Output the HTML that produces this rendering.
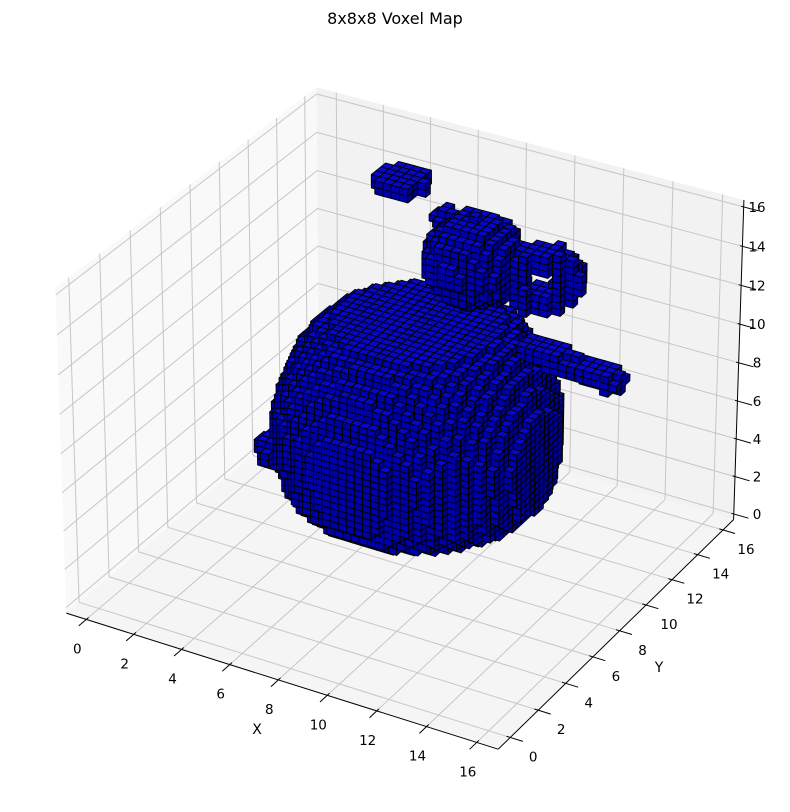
<!DOCTYPE html>
<html><head><meta charset="utf-8"><title>8x8x8 Voxel Map</title>
<style>
html,body{margin:0;padding:0;background:#fff;}
svg{display:block;font-family:"DejaVu Sans","Liberation Sans",sans-serif;}
</style></head>
<body>
<svg id="chart" width="790" height="812" viewBox="0 0 790 812" xmlns="http://www.w3.org/2000/svg">
<text x="395" y="24" text-anchor="middle" font-size="16" fill="#000">8x8x8 Voxel Map</text>
<g id="panes"></g>
<g id="grid"></g>
<g id="voxels"></g>
<g id="axes"></g>
<text x="257" y="734" text-anchor="middle" font-size="14">X</text>
<text x="659" y="672" text-anchor="middle" font-size="14">Y</text>
</svg>
<script>
// ---- chart data ----
const xTicks = [0,2,4,6,8,10,12,14,16];
const yTicks = [0,2,4,6,8,10,12,14,16];
const zTicks = [0,2,4,6,8,10,12,14,16];
const xlim = [-0.85,16.85], ylim = [-0.85,16.85], zlim = [-0.3,16.35];
// teapot body (surface of revolution) profile
const bodyCenter = [8.4, 8.3];
const profileZ = [3.4, 3.7, 4.1, 4.8, 5.8, 6.8, 7.8, 8.8, 9.8, 10.8, 11.8, 12.4];
const profileR = [3.9, 4.3, 4.6, 4.9, 5.0, 5.1, 5.1, 4.9, 4.6, 4.2, 3.6, 2.8];
// blobs: lid, left bump, knob, lid side piece
const blobX  = [9.8, 4.2, 7.6, 8.2];
const blobY  = [9.8, 5.6, 8.5, 10.6];
const blobZ  = [15.1, 6.0, 19.0, 16.2];
const blobR  = [1.7, 0.8, 1.0, 0.5];
const blobRZ = [2.1, 0.8, 0.45, 0.4];
// spout
const spoutStart = [12.4, 9.5, 11.6];
const spoutEnd   = [15.5, 9.5, 11.2];
const spoutR = [0.5];
// handle ring
const ringCenter = [12.1, 10.5, 14.5];
const ringInner = [0.6], ringOuter = [1.5], ringHalf = [0.5];
const voxelSize = [1/3];

// ---- projection ----
const NS='http://www.w3.org/2000/svg';
const BA=[0.833,0.833,0.625];
const V=[0.433013,-0.75,0.5], RT=[0.866025,0.5,0], UP=[-0.25,0.433013,0.866025];
const EYE=[V[0]*10,V[1]*10,V[2]*10];
function nrm(x,y,z){return [((x-xlim[0])/(xlim[1]-xlim[0])-0.5)*BA[0],((y-ylim[0])/(ylim[1]-ylim[0])-0.5)*BA[1],((z-zlim[0])/(zlim[1]-zlim[0])-0.5)*BA[2]];}
function raw(x,y,z){const p=nrm(x,y,z);const d=[p[0]-EYE[0],p[1]-EYE[1],p[2]-EYE[2]];
 const dep=-(d[0]*V[0]+d[1]*V[1]+d[2]*V[2]);
 return [(d[0]*RT[0]+d[1]*RT[1]+d[2]*RT[2])/dep,(d[0]*UP[0]+d[1]*UP[1]+d[2]*UP[2])/dep];}
const X0=xlim[0],X1=xlim[1],Y0=ylim[0],Y1=ylim[1],Z0=zlim[0],Z1=zlim[1];
const cal=[[X0,Y0,Z0,67,612],[X1,Y0,Z0,501,753],[X1,Y1,Z0,730,517],[X0,Y0,Z1,52,283],[X0,Y1,Z1,319,92],[X1,Y1,Z1,745,200]];
let K,CX,CY;
(function(){const s=cal.map(c=>raw(c[0],c[1],c[2]));const n=s.length;
 let msx=0,msy=0,mX=0,mY=0;s.forEach((q,i)=>{msx+=q[0];msy+=q[1];mX+=cal[i][3];mY+=cal[i][4];});
 msx/=n;msy/=n;mX/=n;mY/=n;let num=0,den=0;
 s.forEach((q,i)=>{num+=(q[0]-msx)*(cal[i][3]-mX)-(q[1]-msy)*(cal[i][4]-mY);den+=(q[0]-msx)**2+(q[1]-msy)**2;});
 K=num/den;CX=mX-K*msx;CY=mY+K*msy;})();
function P(x,y,z){const r=raw(x,y,z);return [CX+K*r[0],CY-K*r[1]];}
function pts(a){return a.map(p=>p[0].toFixed(1)+','+p[1].toFixed(1)).join(' ');}

// ---- panes ----
const panes=document.getElementById('panes');
function poly(g,arr,fill,name){const e=document.createElementNS(NS,'polygon');e.setAttribute('points',pts(arr));e.setAttribute('fill',fill);
 
 
 g.appendChild(e);}
poly(panes,[P(X0,Y0,Z0),P(X0,Y1,Z0),P(X0,Y1,Z1),P(X0,Y0,Z1)],'#f9f9f9','x-pane');
poly(panes,[P(X0,Y1,Z0),P(X1,Y1,Z0),P(X1,Y1,Z1),P(X0,Y1,Z1)],'#f2f2f2','y-pane');
poly(panes,[P(X0,Y0,Z0),P(X1,Y0,Z0),P(X1,Y1,Z0),P(X0,Y1,Z0)],'#f5f5f5','floor-pane');

function line(g,a,b,stroke,w,name){const e=document.createElementNS(NS,'line');
 e.setAttribute('x1',a[0].toFixed(1));e.setAttribute('y1',a[1].toFixed(1));e.setAttribute('x2',b[0].toFixed(1));e.setAttribute('y2',b[1].toFixed(1));
 e.setAttribute('stroke',stroke);e.setAttribute('stroke-width',w);
 
 
 g.appendChild(e);}
const grid=document.getElementById('grid');
xTicks.forEach(x=>{line(grid,P(x,Y0,Z0),P(x,Y1,Z0),'#c6c6c6',1,'floor-grid-x');line(grid,P(x,Y1,Z0),P(x,Y1,Z1),'#c6c6c6',1,'wall-grid-x');});
yTicks.forEach(y=>{line(grid,P(X0,y,Z0),P(X1,y,Z0),'#c6c6c6',1,'floor-grid-y');line(grid,P(X0,y,Z0),P(X0,y,Z1),'#c6c6c6',1,'wall-grid-y');});
zTicks.forEach(z=>{line(grid,P(X0,Y0,z),P(X0,Y1,z),'#c6c6c6',1,'wall-grid-z');line(grid,P(X0,Y1,z),P(X1,Y1,z),'#c6c6c6',1,'back-grid-z');});

// ---- voxels ----
function profR(z){if(z<profileZ[0]||z>profileZ[profileZ.length-1])return -1;
 for(let i=0;i<profileZ.length-1;i++){if(z<=profileZ[i+1]){const t=(z-profileZ[i])/(profileZ[i+1]-profileZ[i]);return profileR[i]+t*(profileR[i+1]-profileR[i]);}}return -1;}
function occ(x,y,z){
 const r=profR(z);if(r>0){const dx=x-bodyCenter[0],dy=y-bodyCenter[1];if(dx*dx+dy*dy<=r*r)return true;}
 for(let i=0;i<blobX.length;i++){const a=(x-blobX[i])/blobR[i],b=(y-blobY[i])/blobR[i],c=(z-blobZ[i])/blobRZ[i];if(a*a+b*b+c*c<=1)return true;}
 const s=spoutStart,e=spoutEnd;const d=[e[0]-s[0],e[1]-s[1],e[2]-s[2]];const L=d[0]*d[0]+d[1]*d[1]+d[2]*d[2];
 let t=((x-s[0])*d[0]+(y-s[1])*d[1]+(z-s[2])*d[2])/L;t=Math.max(0,Math.min(1,t));
 const q=[x-s[0]-t*d[0],y-s[1]-t*d[1],z-s[2]-t*d[2]];if(q[0]*q[0]+q[1]*q[1]+q[2]*q[2]<=spoutR[0]*spoutR[0])return true;
 const qx=x-ringCenter[0],qy=y-ringCenter[1],qz=z-ringCenter[2];const a=qx*0.866+qy*0.5,tt=-qx*0.5+qy*0.866;const rr=Math.sqrt(a*a+qz*qz);
 if(rr>=ringInner[0]&&rr<=ringOuter[0]&&Math.abs(tt)<=ringHalf[0])return true;
 return false;}
const vs=voxelSize[0];const NI=57,NJ=57,NK=66;
const G=new Uint8Array(NI*NJ*NK);const idx=(i,j,k)=>(k*NJ+j)*NI+i;
for(let k=0;k<NK;k++)for(let j=0;j<NJ;j++)for(let i=0;i<NI;i++){if(occ((i+0.5)*vs,(j+0.5)*vs,(k+0.5)*vs))G[idx(i,j,k)]=1;}
const get=(i,j,k)=>(i<0||j<0||k<0||i>=NI||j>=NJ||k>=NK)?0:G[idx(i,j,k)];
const list=[];
for(let k=0;k<NK;k++)for(let j=0;j<NJ;j++)for(let i=0;i<NI;i++){if(!G[idx(i,j,k)])continue;
 const top=!get(i,j,k+1),front=!get(i,j-1,k),rgt=!get(i+1,j,k);if(top||front||rgt)list.push([i,j,k,top,front,rgt,i*0.433-j*0.75+k*0.5]);}
list.sort((a,b)=>a[6]-b[6]);
const vg=document.getElementById('voxels');
list.forEach(v=>{const x0=v[0]*vs,x1=x0+vs,y0=v[1]*vs,y1=y0+vs,z0=v[2]*vs,z1=z0+vs;
 const g=document.createElementNS(NS,'g');
 
 
 let s='';
 if(v[4])s+='<polygon points="'+pts([P(x0,y0,z0),P(x1,y0,z0),P(x1,y0,z1),P(x0,y0,z1)])+'" fill="#0000a8"/>';
 if(v[5])s+='<polygon points="'+pts([P(x1,y0,z0),P(x1,y1,z0),P(x1,y1,z1),P(x1,y0,z1)])+'" fill="#00008c"/>';
 if(v[3])s+='<polygon points="'+pts([P(x0,y0,z1),P(x1,y0,z1),P(x1,y1,z1),P(x0,y1,z1)])+'" fill="#0808c4"/>';
 g.innerHTML=s;g.setAttribute('stroke','#000');g.setAttribute('stroke-width','0.9');g.setAttribute('stroke-linejoin','round');
 vg.appendChild(g);});

// ---- axes ----
const ax=document.getElementById('axes');
line(ax,P(X0,Y0,Z0),P(X1,Y0,Z0),'#000',1,'x-axis-line');
line(ax,P(X1,Y0,Z0),P(X1,Y1,Z0),'#000',1,'y-axis-line');
line(ax,P(X1,Y1,Z0),P(X1,Y1,Z1),'#000',1,'z-axis-line');
function label(x,y,txt,name){const e=document.createElementNS(NS,'text');e.setAttribute('x',x.toFixed(1));e.setAttribute('y',(y+5).toFixed(1));
 e.setAttribute('text-anchor','middle');e.setAttribute('font-size','13.5');e.textContent=txt;
 
 
 ax.appendChild(e);}
xTicks.forEach(x=>{line(ax,P(x,Y0-0.5,Z0),P(x,Y0+0.15,Z0),'#000',1,'x-tick');const p=P(x,Y0,Z0);label(p[0]-9,p[1]+29,String(x),'x-tick-label');});
yTicks.forEach(y=>{line(ax,P(X1+0.5,y,Z0),P(X1-0.15,y,Z0),'#000',1,'y-tick');const p=P(X1,y,Z0);label(p[0]+23,p[1]+19,String(y),'y-tick-label');});
zTicks.forEach(z=>{line(ax,P(X1-0.1,Y1,z),P(X1+0.6,Y1,z),'#000',1,'z-tick');const p=P(X1,Y1,z);label(757,p[1],String(z),'z-tick-label');});
</script>
</body></html>
